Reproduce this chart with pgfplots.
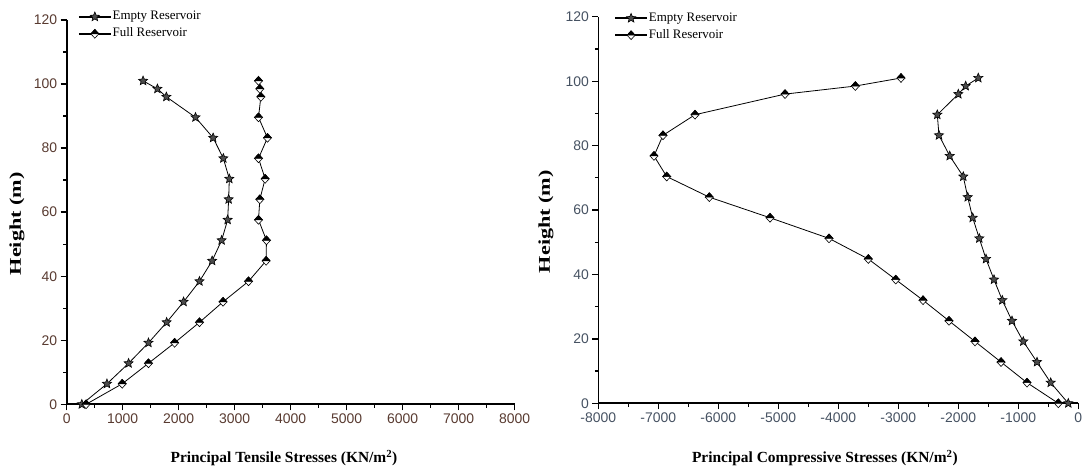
\documentclass[border=0pt]{standalone}
\usepackage{pgfplots}
\pgfplotsset{compat=1.18}
\usepackage{fontspec}
\setmainfont{Liberation Serif}
\newfontfamily\ticksans{Liberation Sans}
\newfontfamily\tallserif[FakeStretch=1.35]{Liberation Serif}

% diamond with a black upper half and a white lower half
\pgfdeclareplotmark{halfdiamond}{%
  \pgfpathmoveto{\pgfqpoint{0pt}{1.1\pgfplotmarksize}}%
  \pgfpathlineto{\pgfqpoint{\pgfplotmarksize}{0pt}}%
  \pgfpathlineto{\pgfqpoint{0pt}{-1.1\pgfplotmarksize}}%
  \pgfpathlineto{\pgfqpoint{-\pgfplotmarksize}{0pt}}%
  \pgfpathclose
  \pgfsetfillcolor{white}\pgfusepath{fill,stroke}%
  \pgfpathmoveto{\pgfqpoint{0pt}{1.1\pgfplotmarksize}}%
  \pgfpathlineto{\pgfqpoint{\pgfplotmarksize}{0pt}}%
  \pgfpathlineto{\pgfqpoint{-\pgfplotmarksize}{0pt}}%
  \pgfpathclose
  \pgfsetfillcolor{black}\pgfusepath{fill,stroke}%
}

% filled five-pointed star
\pgfdeclareplotmark{fivestar}{%
  \pgfpathmoveto{\pgfpointpolar{90}{\pgfplotmarksize}}%
  \pgfpathlineto{\pgfpointpolar{126}{0.45\pgfplotmarksize}}%
  \pgfpathlineto{\pgfpointpolar{162}{\pgfplotmarksize}}%
  \pgfpathlineto{\pgfpointpolar{198}{0.45\pgfplotmarksize}}%
  \pgfpathlineto{\pgfpointpolar{234}{\pgfplotmarksize}}%
  \pgfpathlineto{\pgfpointpolar{270}{0.45\pgfplotmarksize}}%
  \pgfpathlineto{\pgfpointpolar{306}{\pgfplotmarksize}}%
  \pgfpathlineto{\pgfpointpolar{342}{0.45\pgfplotmarksize}}%
  \pgfpathlineto{\pgfpointpolar{18}{\pgfplotmarksize}}%
  \pgfpathlineto{\pgfpointpolar{54}{0.45\pgfplotmarksize}}%
  \pgfpathclose
  \pgfusepath{fill,stroke}%
}

\definecolor{tickbrown}{RGB}{88,58,48}
\definecolor{tickslate}{RGB}{70,82,98}

\pgfplotsset{
  damstyle/.style={
    scale only axis,
    axis lines*=left,
    axis line style={line width=1.6bp},
    tick align=outside,
    major tick length=6bp,
    minor tick length=3.5bp,
    every tick/.style={black, line width=1.3bp},
    ymin=0, ymax=120, ytick={0,20,...,120}, minor y tick num=1,
    minor x tick num=1,
    /pgf/number format/assume math mode=true,
    /pgf/number format/1000 sep={},
    tick label style={font=\ticksans\fontsize{14}{16}\selectfont},
    xlabel style={font=\bfseries\fontsize{15.5}{17}\selectfont},
    ylabel style={font=\tallserif\bfseries\fontsize{16.5}{18}\selectfont},
    ylabel={Height (m)},
    legend cell align=left,
    legend style={draw=none, fill=none, anchor=north west,
      font=\fontsize{13}{14}\selectfont, row sep=3bp, inner sep=0pt,
      nodes={inner sep=1bp, text height=9bp, text depth=3bp}},
    legend image code/.code={\draw[mark repeat=2,mark phase=2,##1,line width=1.5bp] plot coordinates {(0bp,0bp) (16bp,0bp) (32bp,0bp)};},
  },
  emptyres/.style={black, line width=0.8bp, mark=fivestar, mark size=4.8bp,
    mark options={solid, fill=black!70, line width=0.6bp}},
  fullres/.style={black, line width=0.8bp, mark=halfdiamond, mark size=4bp,
    mark options={solid, line width=0.6bp}},
}

\begin{document}
\begin{tikzpicture}
\useasboundingbox (0bp,0bp) rectangle (1083bp,470bp);

% tensile stresses
\begin{axis}[damstyle,
  at={(66.7bp,65.7bp)}, anchor=south west,
  width=448bp, height=384.3bp,
  xmin=0, xmax=8000, xtick={0,1000,...,8000},
  tick label style={color=tickbrown},
  xlabel={Principal Tensile Stresses (KN/m\textsuperscript{2})},
  xlabel style={at={(axis description cs:0.485,-0.14)}, anchor=center},
  ylabel style={at={(axis description cs:-0.111,0.47)}, anchor=center},
  legend style={at={(axis description cs:0.025,1.027)}},
]
\addplot[emptyres] coordinates {
  (270,0) (719,6.4) (1105,12.8) (1460,19.2) (1785,25.6) (2087,32)
  (2371,38.4) (2597,44.8) (2767,51.2) (2874,57.6) (2892,64) (2904,70.4)
  (2797,76.8) (2615,83.2) (2300,89.6) (1780,96) (1620,98.5) (1364,101)
};
\addlegendentry{Empty Reservoir}
\addplot[fullres] coordinates {
  (346,0) (991,6.4) (1460,12.8) (1927,19.2) (2371,25.6) (2792,32)
  (3247,38.4) (3561,44.8) (3567,51.2) (3425,57.6) (3449,64) (3544,70.4)
  (3425,76.8) (3585,83.2) (3425,89.6) (3467,96) (3449,98.5) (3425,101)
};
\addlegendentry{Full Reservoir}
\end{axis}

% compressive stresses
\begin{axis}[damstyle,
  at={(598.3bp,66.7bp)}, anchor=south west,
  width=480bp, height=386.5bp,
  xmin=-8000, xmax=0, xtick={-8000,-7000,...,0},
  tick label style={color=tickslate},
  xlabel={Principal Compressive Stresses (KN/m\textsuperscript{2})},
  xlabel style={at={(axis description cs:0.472,-0.141)}, anchor=center},
  ylabel style={at={(axis description cs:-0.109,0.47)}, anchor=center},
  legend style={at={(axis description cs:0.033,1.015)}},
]
\addplot[emptyres] coordinates {
  (-167,0) (-460,6.4) (-688,12.8) (-917,19.2) (-1105,25.6) (-1267,32)
  (-1405,38.4) (-1538,44.8) (-1650,51.2) (-1760,57.6) (-1843,64) (-1917,70.4)
  (-2143,76.8) (-2322,83.2) (-2350,89.6) (-2000,96) (-1877,98.5) (-1667,101)
};
\addlegendentry{Empty Reservoir}
\addplot[fullres] coordinates {
  (-333,0) (-855,6.4) (-1288,12.8) (-1722,19.2) (-2155,25.6) (-2588,32)
  (-3043,38.4) (-3500,44.8) (-4155,51.2) (-5138,57.6) (-6150,64) (-6860,70.4)
  (-7072,76.8) (-6922,83.2) (-6388,89.6) (-4888,96) (-3716,98.5) (-2955,101)
};
\addlegendentry{Full Reservoir}
\end{axis}
\end{tikzpicture}
\end{document}
